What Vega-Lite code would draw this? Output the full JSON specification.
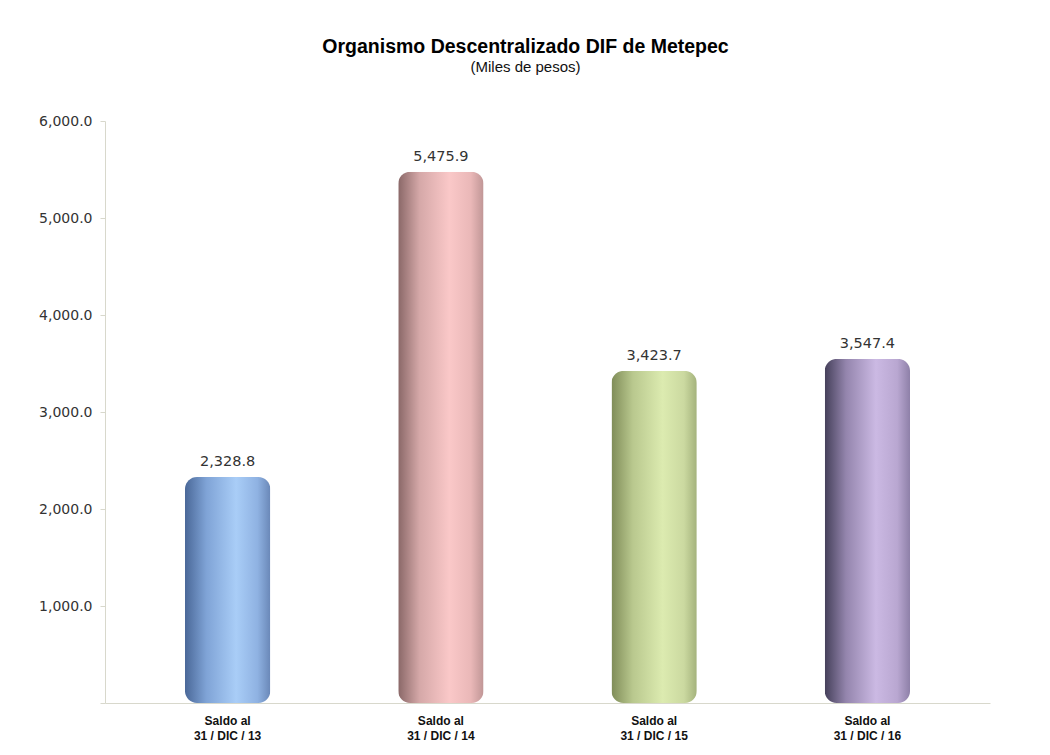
{
  "$schema": "https://vega.github.io/schema/vega-lite/v6.json",
  "autosize": "none",
  "width": 885,
  "height": 582,
  "padding": {"left": 105, "top": 121, "right": 60, "bottom": 52},
  "background": "white",
  "config": {
    "font": "Liberation Sans",
    "view": {"stroke": null}
  },
  "title": {
    "text": "Organismo Descentralizado DIF de Metepec",
    "subtitle": "(Miles de pesos)",
    "anchor": "middle",
    "frame": "group",
    "dx": -22,
    "offset": 38,
    "font": "Liberation Sans",
    "fontSize": 19.5,
    "fontWeight": "bold",
    "color": "#000000",
    "subtitleFont": "Liberation Sans",
    "subtitleFontSize": 15,
    "subtitleColor": "#111111",
    "subtitlePadding": 3
  },
  "data": {
    "values": [
      {"fecha": "31 / DIC / 13", "saldo": 2328.8, "etiqueta": "2,328.8"},
      {"fecha": "31 / DIC / 14", "saldo": 5475.9, "etiqueta": "5,475.9"},
      {"fecha": "31 / DIC / 15", "saldo": 3423.7, "etiqueta": "3,423.7"},
      {"fecha": "31 / DIC / 16", "saldo": 3547.4, "etiqueta": "3,547.4"}
    ]
  },
  "encoding": {
    "x": {
      "field": "fecha",
      "type": "nominal",
      "sort": null,
      "scale": {"paddingInner": 0.6, "paddingOuter": 0.375},
      "axis": {
        "title": null,
        "labelAngle": 0,
        "labelExpr": "['Saldo al', datum.label]",
        "labelFont": "Liberation Sans",
        "labelFontSize": 12,
        "labelFontWeight": "bold",
        "labelColor": "#111111",
        "labelPadding": 12,
        "labelLineHeight": 15,
        "ticks": false,
        "domainColor": "#d8d8cc",
        "domainWidth": 1
      }
    },
    "y": {
      "field": "saldo",
      "type": "quantitative",
      "scale": {"domain": [0, 6000], "nice": false},
      "axis": {
        "title": null,
        "values": [0, 1000, 2000, 3000, 4000, 5000, 6000],
        "format": ",.1f",
        "labelExpr": "datum.value == 0 ? '' : datum.label",
        "labelFont": "DejaVu Sans",
        "labelFontSize": 14,
        "labelColor": "#333333",
        "labelPadding": 8,
        "grid": false,
        "domainColor": "#d8d8cc",
        "tickColor": "#d8d8cc",
        "tickSize": 5
      }
    }
  },
  "layer": [
    {
      "transform": [{"filter": "datum.fecha == '31 / DIC / 13'"}],
      "mark": {
        "type": "bar",
        "cornerRadius": 12,
        "color": {
          "x1": 0, "y1": 0, "x2": 1, "y2": 0,
          "gradient": "linear",
          "stops": [
            {"offset": 0, "color": "#4a6898"},
            {"offset": 0.25, "color": "#7fa3d6"},
            {"offset": 0.6, "color": "#a9cdf7"},
            {"offset": 0.85, "color": "#8fb2e2"},
            {"offset": 1, "color": "#6a88b8"}
          ]
        }
      }
    },
    {
      "transform": [{"filter": "datum.fecha == '31 / DIC / 14'"}],
      "mark": {
        "type": "bar",
        "cornerRadius": 12,
        "color": {
          "x1": 0, "y1": 0, "x2": 1, "y2": 0,
          "gradient": "linear",
          "stops": [
            {"offset": 0, "color": "#8a6868"},
            {"offset": 0.25, "color": "#d5a8a8"},
            {"offset": 0.6, "color": "#fac8c8"},
            {"offset": 0.85, "color": "#eab8b8"},
            {"offset": 1, "color": "#c09696"}
          ]
        }
      }
    },
    {
      "transform": [{"filter": "datum.fecha == '31 / DIC / 15'"}],
      "mark": {
        "type": "bar",
        "cornerRadius": 12,
        "color": {
          "x1": 0, "y1": 0, "x2": 1, "y2": 0,
          "gradient": "linear",
          "stops": [
            {"offset": 0, "color": "#7f8c58"},
            {"offset": 0.25, "color": "#b9c88e"},
            {"offset": 0.6, "color": "#dcebb0"},
            {"offset": 0.85, "color": "#cbd9a0"},
            {"offset": 1, "color": "#a4b27c"}
          ]
        }
      }
    },
    {
      "transform": [{"filter": "datum.fecha == '31 / DIC / 16'"}],
      "mark": {
        "type": "bar",
        "cornerRadius": 12,
        "color": {
          "x1": 0, "y1": 0, "x2": 1, "y2": 0,
          "gradient": "linear",
          "stops": [
            {"offset": 0, "color": "#45405a"},
            {"offset": 0.25, "color": "#9485ad"},
            {"offset": 0.6, "color": "#cbb9e3"},
            {"offset": 0.85, "color": "#b9a7d1"},
            {"offset": 1, "color": "#8e80a8"}
          ]
        }
      }
    },
    {
      "mark": {
        "type": "text",
        "baseline": "bottom",
        "dy": -8,
        "font": "DejaVu Sans",
        "fontSize": 14.5,
        "color": "#333333"
      },
      "encoding": {"text": {"field": "etiqueta"}}
    }
  ]
}
